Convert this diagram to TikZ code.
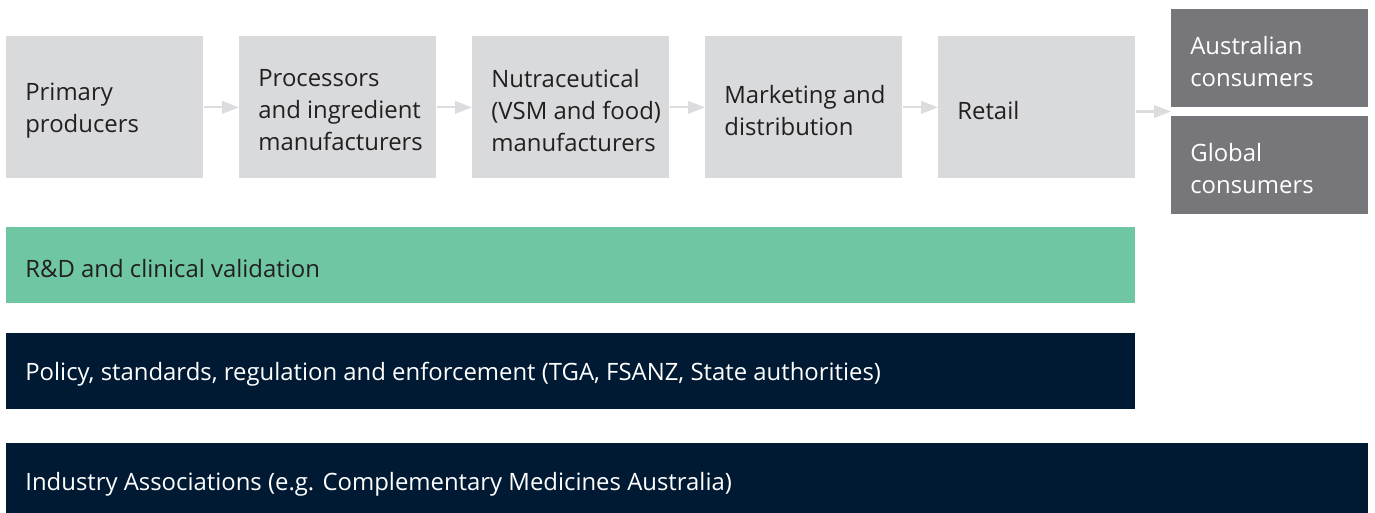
\documentclass[tikz,border=0pt]{standalone}
\usepackage{fontspec}
\setmainfont{Open Sans}
\usetikzlibrary{arrows.meta,positioning}
\definecolor{stagegrey}{HTML}{D9DADC}
\definecolor{consgrey}{HTML}{77777B}
\definecolor{rdgreen}{HTML}{6FC6A3}
\definecolor{navy}{HTML}{001A33}
\definecolor{inkdark}{HTML}{231F20}
\definecolor{flowgrey}{HTML}{DCDCDE}

\begin{document}
\begin{tikzpicture}[x=0.02cm, y=-0.02cm, font=\fontsize{13.6}{18.2}\selectfont,
    stage/.style={fill=stagegrey, anchor=north west, inner sep=0pt, minimum width=3.94cm, minimum height=2.84cm},
    cons/.style={fill=consgrey, anchor=north west, inner sep=0pt, minimum width=3.94cm, minimum height=1.96cm},
    bar/.style={anchor=north west, inner sep=0pt, minimum width=22.58cm, minimum height=1.52cm},
    lbl/.style={anchor=west, align=left, inner sep=0pt, yshift=-0.06cm, text=inkdark},
    wlbl/.style={lbl, text=white},
    flow/.style={draw=flowgrey, line width=1.2pt, -{Triangle[length=0.34cm, width=0.25cm]}}]
  \useasboundingbox (0,0) rectangle (1375,512);

  % value chain
  \node[stage] (prim) at (6,36) {};
  \node[stage] (proc) at (239,36) {};
  \node[stage] (nutra) at (472,36) {};
  \node[stage] (mkt) at (705,36) {};
  \node[stage] (retail) at (938,36) {};
  \node[lbl, right=0.38cm of prim.west] (primt) {Primary\\producers};
  \node[lbl, right=0.38cm of proc.west] (proct) {Processors\\and ingredient\\manufacturers};
  \node[lbl, right=0.38cm of nutra.west] (nutrat) {Nutraceutical\\(VSM and food)\\manufacturers};
  \node[lbl, right=0.38cm of mkt.west] (mktt) {Marketing and\\distribution};
  \node[lbl, right=0.38cm of retail.west] (retailt) {Retail};

  % end markets
  \node[cons] (aus) at (1171,9) {};
  \node[cons] (glob) at (1171,116) {};
  \node[wlbl, right=0.38cm of aus.west] (aust) {Australian\\consumers};
  \node[wlbl, right=0.38cm of glob.west] (globt) {Global\\consumers};
  \coordinate (split) at (1171,111.5);

  \draw[flow] (prim) -- (proc);
  \draw[flow] (proc) -- (nutra);
  \draw[flow] (nutra) -- (mkt);
  \draw[flow] (mkt) -- (retail);
  \draw[flow] (retail.east |- split) -- (split);

  % supporting layers
  \node[bar, fill=rdgreen] (rd) at (6,227) {};
  \node[lbl, right=0.38cm of rd.west] (rdt) {R\&D and clinical validation};
  \node[bar, fill=navy] (policy) at (6,333) {};
  \node[wlbl, right=0.38cm of policy.west] (policyt) {Policy, standards, regulation and enforcement (TGA, FSANZ, State authorities)};
  \node[bar, fill=navy, minimum width=27.24cm] (ind) at (6,443) {};
  \node[wlbl, right=0.38cm of ind.west] (indt) {Industry Associations (e.g. Complementary Medicines Australia)};
\end{tikzpicture}
\end{document}
